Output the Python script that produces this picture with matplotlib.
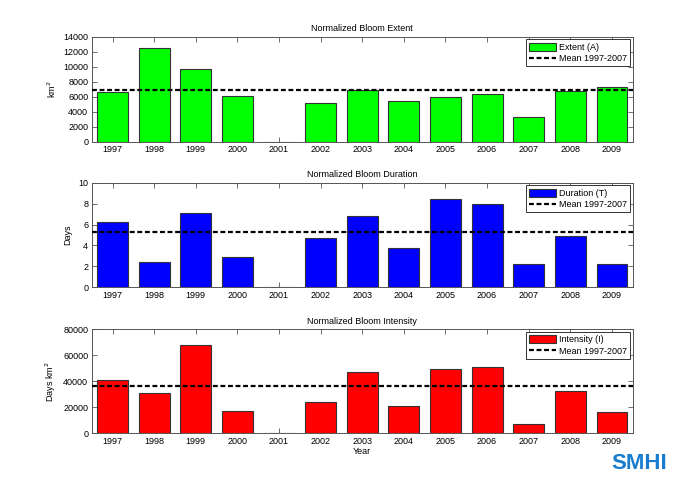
import matplotlib
matplotlib.use("Agg")
import matplotlib.pyplot as plt

# Data
years = [1997, 1998, 1999, 2000, 2001, 2002, 2003, 2004, 2005, 2006, 2007, 2008, 2009]
extent = [6650, 12550, 9650, 6050, 0, 5100, 6900, 5450, 5900, 6400, 3250, 6750, 7250]
duration = [6.2, 2.45, 7.1, 2.9, 0, 4.75, 6.85, 3.8, 8.45, 8.0, 2.2, 4.9, 2.25]
intensity = [40700, 30700, 68200, 17400, 0, 24300, 47000, 20700, 49700, 51000, 7200, 32600, 16300]
extent_mean = 6850
duration_mean = 5.25
intensity_mean = 36200

plt.rcParams['font.family'] = ['Liberation Sans', 'DejaVu Sans']
plt.rcParams['font.size'] = 6.5

FS = 6.5
SPINE = '#555555'

panels = [
    dict(values=extent, mean=extent_mean, color='#00ff00', label='Extent (A)',
         title='Normalized Bloom Extent', ylabel='km$^2$',
         ylim=(0, 14000), yticks=range(0, 14001, 2000),
         rect=[0.131, 0.709, 0.773, 0.2156]),
    dict(values=duration, mean=duration_mean, color='#0000ff', label='Duration (T)',
         title='Normalized Bloom Duration', ylabel='Days',
         ylim=(0, 10), yticks=range(0, 11, 2),
         rect=[0.131, 0.410, 0.773, 0.2148]),
    dict(values=intensity, mean=intensity_mean, color='#ff0000', label='Intensity (I)',
         title='Normalized Bloom Intensity', ylabel='Days km$^2$',
         ylim=(0, 80000), yticks=range(0, 80001, 20000),
         rect=[0.131, 0.110, 0.773, 0.214]),
]

fig = plt.figure(figsize=(7.0, 4.87), dpi=100)

for i, p in enumerate(panels):
    ax = fig.add_axes(p['rect'])
    bars = ax.bar(years, p['values'], width=0.74, color=p['color'],
                  edgecolor='#333333', linewidth=0.8, label=p['label'], zorder=2)
    mean_line = ax.axhline(p['mean'], color='black', linestyle=(0, (2.2, 1.2)),
                           linewidth=1.6, label='Mean 1997-2007', zorder=3)

    ax.set_xlim(1996.5, 2009.5)
    ax.set_ylim(*p['ylim'])
    ax.set_xticks(years)
    ax.set_xticklabels([str(y) for y in years])
    ax.set_yticks(list(p['yticks']))
    ax.tick_params(direction='in', top=True, right=True, length=3.5,
                   width=0.6, color=SPINE, labelsize=FS, pad=2.5)
    for s in ax.spines.values():
        s.set_color(SPINE)
        s.set_linewidth(0.7)

    ax.set_title(p['title'], fontsize=FS, pad=4)
    ax.set_ylabel(p['ylabel'], fontsize=FS, labelpad=4)
    if i == 2:
        ax.set_xlabel('Year', fontsize=FS, labelpad=1)

    leg = ax.legend([bars, mean_line], [p['label'], 'Mean 1997-2007'],
                    loc='upper right', fontsize=FS, handlelength=3.0,
                    handleheight=1.0, borderpad=0.35, labelspacing=0.25,
                    handletextpad=0.35, borderaxespad=0.3, fancybox=False,
                    framealpha=1.0)
    leg.get_frame().set_edgecolor('#333333')
    leg.get_frame().set_linewidth(0.7)

# SMHI logo text
fig.text(0.913, 0.037, 'SMHI', ha='center', va='baseline', color='#1a7ccf',
         fontsize=16, fontweight='bold')

fig.savefig('out.png', dpi=100)
